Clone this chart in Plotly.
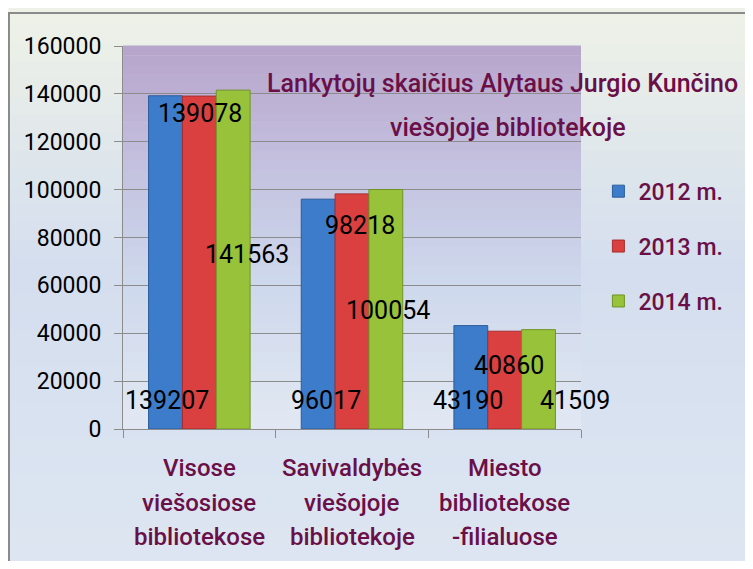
import plotly.graph_objects as go

# ---------------- data ----------------
categories = [
    ["Visose", "viešosiose", "bibliotekose"],
    ["Savivaldybės", "viešojoje", "bibliotekoje"],
    ["Miesto", "bibliotekose", "-filialuose"],
]
series_names = ["2012 m.", "2013 m.", "2014 m."]
v2012 = [139207, 96017, 43190]
v2013 = [139078, 98218, 40860]
v2014 = [141563, 100054, 41509]
y_ticks = [0, 20000, 40000, 60000, 80000, 100000, 120000, 140000, 160000]
title_lines = ["Lankytojų skaičius Alytaus Jurgio Kunčino", "viešojoje bibliotekoje"]

# ---------------- style ----------------
colors = ["#3d7ccb", "#d9403f", "#97c23a"]
edges = ["#2b5c9c", "#a82d2d", "#6f9426"]
maroon = "#6a0f47"
FONT = "Roboto, Open Sans, sans-serif"

# label placement (offsets within group, and heights in axis units) - layout only
label_dx = [[-0.21, -0.17, -0.24], [0.005, 0.05, 0.03], [0.31, 0.235, 0.46]]
label_y = [[12100, 12100, 12100], [132000, 85000, 26700], [73100, 49300, 12100]]

x_pos = list(range(len(categories)))
all_vals = [v2012, v2013, v2014]

fig = go.Figure()
for name, vals, c, e in zip(series_names, all_vals, colors, edges):
    fig.add_trace(go.Bar(
        x=x_pos, y=vals, name=name, legendgroup=name,
        marker=dict(color=c, line=dict(color=e, width=1)),
        hoverinfo="skip",
    ))


def lerp(a, b, t):
    return tuple(int(round(a[i] + (b[i] - a[i]) * t)) for i in range(3))


def grad(stops, t):
    for k in range(len(stops) - 1):
        if stops[k][0] <= t <= stops[k + 1][0]:
            tt = (t - stops[k][0]) / (stops[k + 1][0] - stops[k][0])
            return lerp(stops[k][1], stops[k + 1][1], tt)
    return stops[-1][1]


shapes = []
# page background gradient (top -> bottom)
page_stops = [(0.0, (239, 242, 231)), (0.45, (212, 222, 238)), (1.0, (222, 230, 242))]
ytop, ybot = 1.10, -0.40
n = 32
for i in range(n):
    c = grad(page_stops, (i + 0.5) / n)
    y1 = ytop - (ytop - ybot) * i / n
    y0 = ytop - (ytop - ybot) * (i + 1) / n
    shapes.append(dict(type="rect", xref="paper", yref="paper", x0=-0.25, x1=1.45,
                       y0=y0 - 0.002, y1=y1 + 0.002, line=dict(width=0),
                       fillcolor="rgb(%d,%d,%d)" % c, layer="below"))
# frame (right and bottom edges lie outside the picture)
shapes.append(dict(type="rect", xref="paper", yref="paper", x0=-0.249, x1=1.45,
                   y0=-0.45, y1=1.086, line=dict(color="#8a8a8a", width=2),
                   fillcolor="rgba(0,0,0,0)", layer="below"))
# plot area gradient (bottom -> top)
plot_stops = [(0.0, (226, 233, 243)), (0.4, (205, 215, 236)), (0.7, (195, 192, 222)), (1.0, (184, 164, 203))]
m = 40
for i in range(m):
    c = grad(plot_stops, (i + 0.5) / m)
    shapes.append(dict(type="rect", xref="x domain", yref="y domain", x0=0, x1=1,
                       y0=i / m, y1=(i + 1) / m + 0.001, line=dict(width=0),
                       fillcolor="rgb(%d,%d,%d)" % c, layer="below"))

annotations = []
# data labels
for s, vals in enumerate(all_vals):
    for k, v in enumerate(vals):
        annotations.append(dict(x=x_pos[k] + label_dx[s][k], y=label_y[s][k], xref="x", yref="y",
                                xanchor="center", yanchor="middle",
                                text=str(v), showarrow=False,
                                font=dict(family=FONT, size=25, color="#000000")))
# category labels (3 lines each)
for k, lines in enumerate(categories):
    for i, line in enumerate(lines):
        annotations.append(dict(x=x_pos[k], y=0, xref="x", yref="paper", xanchor="center",
                                yanchor="middle", yshift=-39 - 34.5 * i, text=line, showarrow=False,
                                font=dict(family=FONT, size=24, color=maroon, weight=500)))
# title
annotations.append(dict(x=0.828, y=0.901, xref="paper", yref="paper", xanchor="center",
                        yanchor="middle", text=title_lines[0], showarrow=False,
                        font=dict(family=FONT, size=25, color=maroon, weight=500)))
annotations.append(dict(x=0.84, y=0.786, xref="paper", yref="paper", xanchor="center",
                        yanchor="middle", text=title_lines[1], showarrow=False,
                        font=dict(family=FONT, size=25, color=maroon, weight=500)))

fig.update_layout(
    width=737, height=553,
    margin=dict(l=115, r=164, t=38, b=132),
    paper_bgcolor="#ffffff",
    plot_bgcolor="rgba(0,0,0,0)",
    barmode="group", bargap=0.335, bargroupgap=0,
    showlegend=True,
    legend=dict(x=1.038, y=0.677, xanchor="left", yanchor="top", traceorder="grouped",
                tracegroupgap=22, bgcolor="rgba(0,0,0,0)",
                font=dict(family=FONT, size=23, color=maroon, weight=500)),
    xaxis=dict(range=[-0.5, 2.5], tickmode="array", tickvals=[-0.5, 0.5, 1.5, 2.5],
               ticks="outside", ticklen=8, tickcolor="#8c8c8c", showticklabels=False,
               showgrid=False, showline=True, linecolor="#8c8c8c", zeroline=False),
    yaxis=dict(range=[0, 160000], tickmode="array", tickvals=y_ticks,
               ticktext=[str(t) for t in y_ticks],
               ticks="outside", ticklen=8, tickcolor="#8c8c8c",
               showgrid=True, gridcolor="#8c8c8c", gridwidth=1,
               showline=True, linecolor="#8c8c8c", zeroline=False,
               ticklabelstandoff=8,
               tickfont=dict(family=FONT, size=23, color="#000000")),
    shapes=shapes,
    annotations=annotations,
    font=dict(family=FONT),
)

fig.write_html("out.html")
